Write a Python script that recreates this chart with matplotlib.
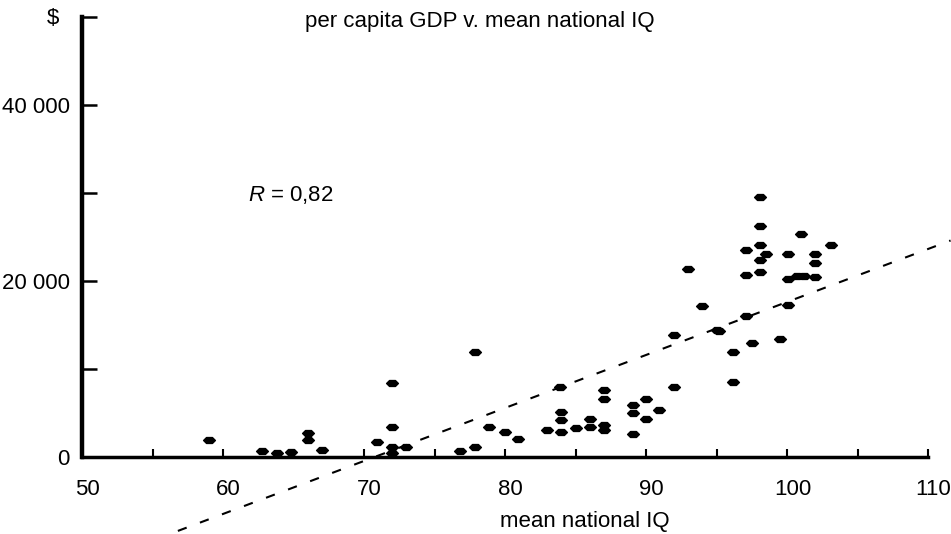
import matplotlib
matplotlib.use('Agg')
import matplotlib.pyplot as plt
from matplotlib.path import Path
from matplotlib.transforms import ScaledTranslation

plt.rcParams['font.family'] = ['Liberation Sans', 'DejaVu Sans']
plt.rcParams['mathtext.fontset'] = 'custom'
plt.rcParams['mathtext.it'] = 'Liberation Sans:italic'
plt.rcParams['mathtext.rm'] = 'Liberation Sans'

# countries: mean national IQ and per capita GDP ($)
iq = [59.0, 62.8, 63.8, 64.8, 66.0, 66.0, 67.0, 70.9, 72.0, 72.0, 72.0, 72.0,
      73.0, 76.8, 77.9, 77.9, 78.9, 80.0, 80.9, 83.0, 84.0, 84.0, 84.0, 83.9,
      85.0, 86.0, 86.0, 87.0, 87.0, 87.0, 87.0, 89.1, 89.1, 89.1, 90.0, 90.0,
      90.9, 92.0, 92.0, 93.0, 94.0, 95.0, 95.2, 96.2, 96.2, 97.1, 97.5, 99.5,
      100.1, 97.1, 97.1, 98.1, 98.1, 98.1, 98.1, 98.1, 98.5, 100.1, 100.1,
      100.7, 101.2, 101.0, 102.0, 102.0, 102.0, 103.1]
gdp = [1900, 700, 450, 550, 2700, 1900, 800, 1700, 500, 1100, 3400, 8400,
       1100, 700, 1100, 11900, 3400, 2800, 2000, 3100, 5100, 4200, 2800, 8000,
       3300, 4300, 3400, 7600, 6600, 3600, 3100, 5900, 5000, 2600, 6600, 4300,
       5300, 8000, 13900, 21400, 17200, 14400, 14300, 11900, 8500, 16000, 12900, 13400,
       17300, 23500, 20700, 29500, 26200, 24100, 22400, 21000, 23100, 23100, 20200,
       20600, 20600, 25300, 23100, 22000, 20400, 24100]

# regression line end points
fit_iq = [56.8, 111.6]
fit_gdp = [-8400, 24600]

x_ticks = list(range(50, 111, 5))
x_labels = [str(t) if t % 10 == 0 else '' for t in x_ticks]
y_ticks = list(range(0, 50001, 10000))
y_labels = ['0', '', '20 000', '', '40 000', '']

fig = plt.figure(figsize=(9.51, 5.34), dpi=100)
ax = fig.add_axes([82 / 951, 1 - 457 / 534, 1 - 82 / 951, 440 / 534])

blob = Path([(-1, 0), (-0.5, 0.5), (0.5, 0.5), (1, 0), (0.5, -0.5), (-0.5, -0.5), (-1, 0)],
            closed=True)
ax.plot(iq, gdp, linestyle='none', marker=blob, markersize=8.5, color='black', clip_on=False)
ax.plot(fit_iq, fit_gdp, color='black', lw=1.5, linestyle=(0, (4.5, 6.8)), clip_on=False)

ax.set_xlim(50, 111.63)
ax.set_ylim(0, 50000)
ax.set_xticks(x_ticks)
ax.set_xticklabels(x_labels)
ax.set_yticks(y_ticks)
ax.set_yticklabels(y_labels)
ax.tick_params(axis='x', direction='in', length=6, width=1.5, pad=16, labelsize=16)
ax.tick_params(axis='y', direction='in', length=11, width=1.8, pad=9, labelsize=16)

# labels in the original sit a little right of their ticks
shift = ScaledTranslation(4 / 72, 0, fig.dpi_scale_trans)
for lab in ax.get_xticklabels():
    lab.set_transform(lab.get_transform() + shift)

for s in ['top', 'right']:
    ax.spines[s].set_visible(False)
ax.spines['left'].set_linewidth(3.2)
ax.spines['bottom'].set_linewidth(2.5)
ax.spines['bottom'].set_bounds(50, 110)

ax.text(61.8, 29800, r'$R$ = 0,82', fontsize=16, va='center')
fig.text(480 / 951, 1 - 21 / 534, 'per capita GDP v. mean national IQ', fontsize=16,
         ha='center', va='center')
fig.text(53 / 951, 1 - 18 / 534, '$', fontsize=16, ha='center', va='center')
fig.text(585 / 951, 1 - 522 / 534, 'mean national IQ', fontsize=16, ha='center', va='center')

fig.savefig('out.png', dpi=100)
